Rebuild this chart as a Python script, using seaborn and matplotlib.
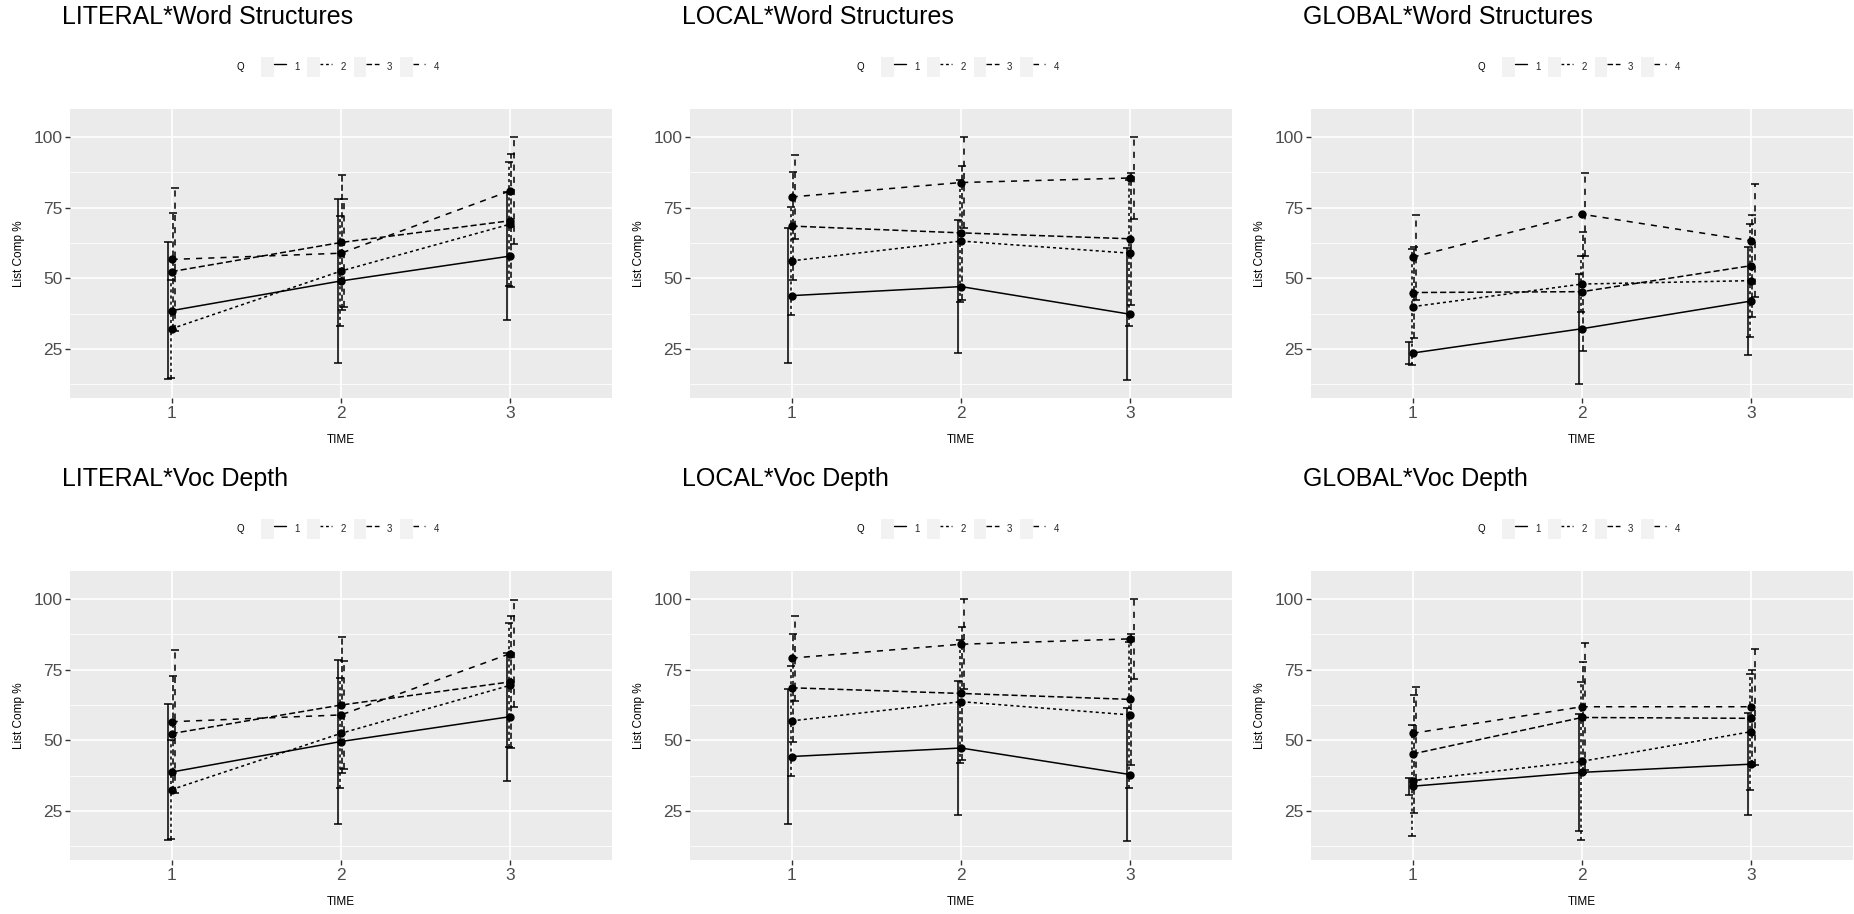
import numpy as np
import pandas as pd
import matplotlib
matplotlib.use('Agg')
import matplotlib.pyplot as plt
import seaborn as sns
from matplotlib.lines import Line2D
from matplotlib.patches import Rectangle
from matplotlib.legend_handler import HandlerTuple
from matplotlib.ticker import FixedLocator

# ---- data (means and +/- error half widths) ----
time_points = [1, 2, 3]
q_levels = ['1', '2', '3', '4']

lit_ws_mean = [[38.6, 49.1, 57.9], [32.2, 52.6, 69.2], [52.4, 62.7, 70.4], [56.7, 58.9, 81.0]]
lit_ws_err = [[24.2, 29.0, 22.5], [17.4, 19.4, 22.0], [20.6, 24.0, 23.5], [25.3, 19.0, 19.0]]

loc_ws_mean = [[43.9, 47.1, 37.3], [56.2, 63.2, 58.9], [68.5, 66.1, 64.0], [78.8, 83.9, 85.5]]
loc_ws_err = [[23.8, 23.5, 23.3], [19.1, 21.6, 25.9], [19.2, 23.6, 23.4], [15.0, 16.1, 14.5]]

glob_ws_mean = [[23.6, 32.2, 42.0], [40.0, 48.0, 49.2], [45.0, 45.3, 54.5], [57.5, 72.7, 63.3]]
glob_ws_err = [[4.0, 19.4, 19.0], [20.5, 10.0, 20.0], [16.0, 21.0, 18.0], [15.0, 14.7, 20.0]]

lit_vd_mean = [[38.8, 49.6, 58.4], [32.6, 52.5, 69.5], [52.4, 62.5, 70.7], [56.6, 59.0, 80.7]]
lit_vd_err = [[24.2, 29.0, 22.6], [17.4, 19.5, 22.0], [20.5, 24.0, 23.3], [25.2, 19.0, 19.0]]

loc_vd_mean = [[44.3, 47.3, 37.9], [56.9, 63.7, 59.0], [68.6, 66.6, 64.5], [79.1, 84.0, 85.9]]
loc_vd_err = [[23.8, 23.7, 23.4], [19.5, 21.8, 25.8], [19.0, 23.4, 23.2], [15.0, 16.0, 14.1]]

glob_vd_mean = [[33.8, 38.7, 41.6], [35.8, 42.6, 53.1], [45.2, 58.1, 57.8], [52.5, 61.9, 61.9]]
glob_vd_err = [[3.0, 20.7, 18.0], [19.6, 28.0, 20.5], [21.0, 19.5, 17.0], [16.5, 22.5, 20.5]]

panel_titles = ['LITERAL*Word Structures', 'LOCAL*Word Structures', 'GLOBAL*Word Structures',
                'LITERAL*Voc Depth', 'LOCAL*Voc Depth', 'GLOBAL*Voc Depth']
panel_means = [lit_ws_mean, loc_ws_mean, glob_ws_mean, lit_vd_mean, loc_vd_mean, glob_vd_mean]
panel_errs = [lit_ws_err, loc_ws_err, glob_ws_err, lit_vd_err, loc_vd_err, glob_vd_err]

# ggplot default linetypes: solid, 22, 42, 44
dash_map = {'1': '', '2': (2, 2), '3': (4, 2), '4': (4, 4)}
ls_map = {'1': '-', '2': (0, (2, 2)), '3': (0, (4, 2)), '4': (0, (4, 4))}
dodge = {'1': -0.01875, '2': -0.00625, '3': 0.00625, '4': 0.01875}

sns.set_theme(style='darkgrid')
plt.rcParams['font.family'] = ['Liberation Sans', 'DejaVu Sans']

W, H = 1854, 914
fig = plt.figure(figsize=(W / 100, H / 100), dpi=100)
fig.patch.set_facecolor('white')

col_left = [70, 690, 1311]
row_top = [109, 571]
pw, ph = 542, 289

for i, title in enumerate(panel_titles):
    r, c = divmod(i, 3)
    ax = fig.add_axes([col_left[c] / W, 1 - (row_top[r] + ph) / H, pw / W, ph / H])
    ax.set_facecolor('#EBEBEB')

    rows = []
    for qi, q in enumerate(q_levels):
        for ti, t in enumerate(time_points):
            rows.append({'TIME': t, 'Q': q, 'score': panel_means[i][qi][ti],
                         'err': panel_errs[i][qi][ti]})
    df = pd.DataFrame(rows)

    sns.lineplot(data=df, x='TIME', y='score', style='Q', style_order=q_levels,
                 dashes=dash_map, markers={q: 'o' for q in q_levels}, color='black',
                 lw=1.1, markersize=6, markeredgewidth=0, estimator=None,
                 legend=False, ax=ax, zorder=3)

    for q in q_levels:
        sub = df[df['Q'] == q]
        eb = ax.errorbar(sub['TIME'] + dodge[q], sub['score'], yerr=sub['err'], fmt='none',
                         ecolor='black', elinewidth=1.1, capsize=2.6, capthick=1.1, zorder=2)
        eb.lines[2][0].set_linestyle(ls_map[q])

    ax.set_xlim(0.4, 3.6)
    ax.set_ylim(7.7, 109.9)
    ax.xaxis.set_major_locator(FixedLocator(time_points))
    ax.yaxis.set_major_locator(FixedLocator([25, 50, 75, 100]))
    ax.yaxis.set_minor_locator(FixedLocator([12.5, 37.5, 62.5, 87.5]))
    ax.grid(which='major', color='white', lw=1.2)
    ax.grid(which='minor', axis='y', color='white', lw=0.6)
    ax.grid(which='minor', axis='x', visible=False)
    for s in ax.spines.values():
        s.set_visible(False)
    ax.tick_params(axis='both', which='major', bottom=True, left=True, length=3.5, width=1,
                   color='#333333', labelcolor='#4D4D4D', labelsize=12.5, pad=2)
    ax.tick_params(axis='both', which='minor', length=0)

    ax.set_xlabel('TIME', fontsize=8.5, color='black')
    ax.set_ylabel('List Comp %', fontsize=8.5, color='black')
    ax.xaxis.set_label_coords(0.5, -36 / ph)
    ax.yaxis.label.set_va('center')
    ax.yaxis.set_label_coords(-51 / pw, 0.5)

    ax.text(-8 / pw, 1 + 92 / ph, title, transform=ax.transAxes, fontsize=18,
            ha='left', va='center', color='black')

    handles = []
    for q in q_levels:
        key = Rectangle((0, 0), 1, 1, facecolor='#F2F2F2', edgecolor='none')
        ln = Line2D([], [], color='black', lw=1.0, linestyle=ls_map[q])
        handles.append((key, ln))
    leg = ax.legend(handles, q_levels, handler_map={tuple: HandlerTuple(ndivide=None, pad=0)},
                    ncol=4, loc='center', bbox_to_anchor=(0.5 + 9 / pw, 1 + 42 / ph),
                    frameon=False, fontsize=7, handlelength=2.57, handleheight=2.7,
                    handletextpad=0.85, columnspacing=0.8, borderaxespad=0, borderpad=0)
    ax.text(0.5 - 101 / pw, 1 + 42 / ph, 'Q', transform=ax.transAxes, fontsize=7,
            ha='center', va='center', color='black')

fig.savefig('out.png', dpi=100, facecolor='white')
